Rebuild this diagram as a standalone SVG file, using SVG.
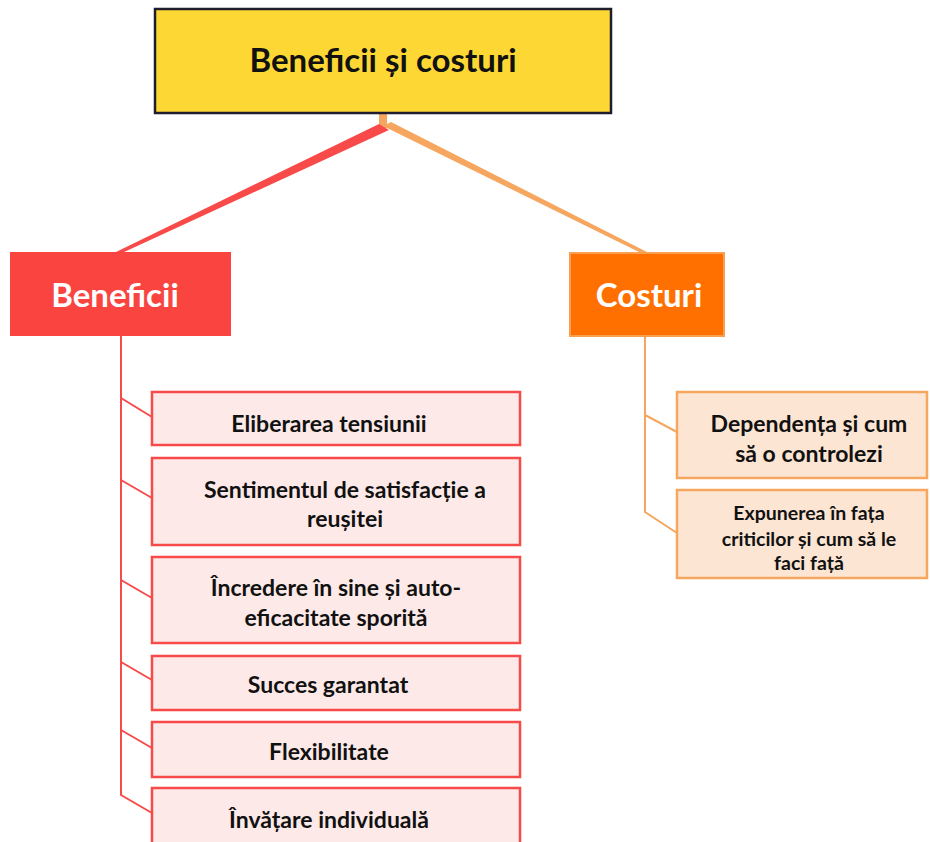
<svg xmlns="http://www.w3.org/2000/svg" width="930" height="842" viewBox="0 0 930 842">
<style>
.t{font-family:Lato,"Open Sans","Liberation Sans",sans-serif;font-weight:bold;text-anchor:middle;fill:#111}
.w{fill:#fff}
.s{font-size:23px}
.bitem{fill:#FDEAE8;stroke:#F94A4A;stroke-width:2.5}
.citem{fill:#FCE5D2;stroke:#F6A65E;stroke-width:2.5}
.rl{stroke:#F94A4A;stroke-width:2;fill:none}
.ol{stroke:#F6A65E;stroke-width:2;fill:none}
</style>
<rect width="930" height="842" fill="#fff"/>
<g id="connectors">
  <rect x="379" y="112" width="8" height="16" fill="#F6A65E"/>
  <polygon points="379,124 389,130 122,253 116,252" fill="#F94A4A"/>
  <polygon points="383,126 391,122 647,252 641,253" fill="#F6A65E"/>
  <polyline class="rl" points="121,336 121,795 152,813"/>
  <line class="rl" x1="121" y1="398" x2="152" y2="417"/>
  <line class="rl" x1="121" y1="480" x2="152" y2="498"/>
  <line class="rl" x1="121" y1="580" x2="152" y2="598"/>
  <line class="rl" x1="121" y1="662" x2="152" y2="680"/>
  <line class="rl" x1="121" y1="730" x2="152" y2="748"/>
  <polyline class="ol" points="645,336 645,512 677,533"/>
  <line class="ol" x1="645" y1="415" x2="677" y2="432"/>
</g>
<g id="root">
  <rect x="155" y="9" width="456" height="104" fill="#FDD835" stroke="#1E1E2E" stroke-width="2.5"/>
  <text class="t" x="383" y="72" font-size="33">Beneficii și costuri</text>
</g>
<g id="beneficii">
  <rect x="10" y="252" width="221" height="84" fill="#FA4440"/>
  <text class="t w" x="115" y="307" font-size="33">Beneficii</text>
</g>
<g id="costuri">
  <rect x="570" y="253" width="154" height="83" fill="#FF7000" stroke="#F8A050" stroke-width="2"/>
  <text class="t w" x="649" y="307" font-size="33">Costuri</text>
</g>
<g id="b1">
  <rect class="bitem" x="152" y="392" width="368" height="53"/>
  <text class="t s" x="329" y="432">Eliberarea tensiunii</text>
</g>
<g id="b2">
  <rect class="bitem" x="152" y="458" width="368" height="87"/>
  <text class="t s" x="345" y="498">Sentimentul de satisfacție a</text>
  <text class="t s" x="345" y="527">reușitei</text>
</g>
<g id="b3">
  <rect class="bitem" x="152" y="557" width="368" height="86"/>
  <text class="t s" x="336" y="596">Încredere în sine și auto-</text>
  <text class="t s" x="336" y="626">eficacitate sporită</text>
</g>
<g id="b4">
  <rect class="bitem" x="152" y="656" width="368" height="54"/>
  <text class="t s" x="328" y="693">Succes garantat</text>
</g>
<g id="b5">
  <rect class="bitem" x="152" y="722" width="368" height="55"/>
  <text class="t s" x="329" y="760">Flexibilitate</text>
</g>
<g id="b6">
  <rect class="bitem" x="152" y="788" width="368" height="60"/>
  <text class="t s" x="329" y="828">Învățare individuală</text>
</g>
<g id="c1">
  <rect class="citem" x="677" y="392" width="250" height="86"/>
  <text class="t s" x="809" y="432">Dependența și cum</text>
  <text class="t s" x="809" y="462">să o controlezi</text>
</g>
<g id="c2">
  <rect class="citem" x="677" y="490" width="250" height="88"/>
  <text class="t" x="809" y="520" font-size="19.5">Expunerea în fața</text>
  <text class="t" x="809" y="546" font-size="19.5">criticilor și cum să le</text>
  <text class="t" x="809" y="570" font-size="19.5">faci față</text>
</g>
</svg>
